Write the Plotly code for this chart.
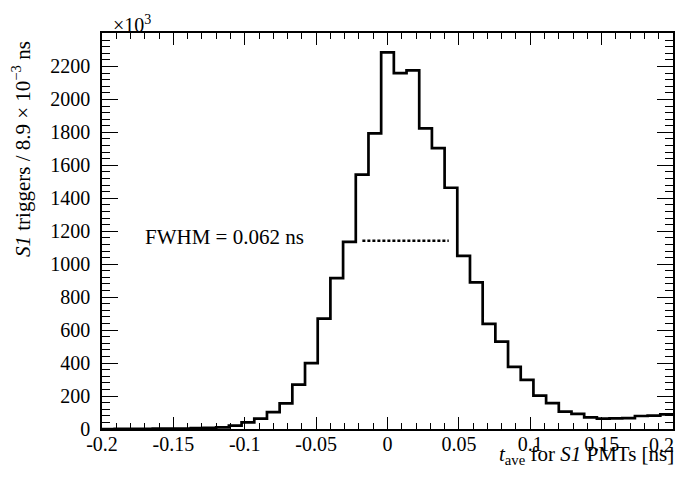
import plotly.graph_objects as go

# ---- data ----
x_min = -0.2
x_max = 0.2
n_bins = 45
counts = [0, 1, 1, 1, 2, 3, 3, 5, 7, 10,
          20, 40, 63, 103, 156, 269, 400, 670, 916, 1135,
          1543, 1794, 2285, 2160, 2176, 1824, 1705, 1464, 1050, 890,
          638, 530, 377, 298, 203, 157, 105, 92, 70, 63,
          65, 66, 79, 81, 89]
fwhm_x = [-0.0176, 0.0429]
fwhm_y = [1142, 1142]
x_tick_vals = [-0.2, -0.15, -0.1, -0.05, 0, 0.05, 0.1, 0.15, 0.2]
x_tick_text = ["-0.2", "-0.15", "-0.1", "-0.05", "0", "0.05", "0.1", "0.15", "0.2"]
y_tick_vals = [0, 200, 400, 600, 800, 1000, 1200, 1400, 1600, 1800, 2000, 2200]

bw = (x_max - x_min) / n_bins
edges = [x_min + i * bw for i in range(n_bins + 1)]
step_y = counts + [counts[-1]]

FONT = "Liberation Serif"

fig = go.Figure()
fig.add_trace(go.Scatter(x=edges, y=step_y, mode="lines", line_shape="hv",
                         line=dict(color="black", width=2.7), hoverinfo="skip"))
fig.add_trace(go.Scatter(x=fwhm_x, y=fwhm_y, mode="lines", hoverinfo="skip",
                         line=dict(color="black", width=2.5, dash="3px,2px")))

# page body keeps its default 8px margin; figure sized so the page is exactly 687x480
fig.update_layout(
    width=671, height=464,
    margin=dict(l=94, r=4, t=25, b=43),
    paper_bgcolor="white", plot_bgcolor="white",
    showlegend=False,
    font=dict(family=FONT, size=20, color="black"),
    xaxis=dict(range=[x_min, x_max], tickvals=x_tick_vals, ticktext=x_tick_text,
               ticks="inside", ticklen=12, tickwidth=1.3, tickcolor="black",
               mirror="allticks", showline=True, linewidth=1.5, linecolor="black",
               showgrid=False, zeroline=False, ticklabelstandoff=-4,
               minor=dict(dtick=0.01, ticks="inside", ticklen=6, tickwidth=1.1,
                          tickcolor="black", showgrid=False)),
    yaxis=dict(range=[0, 2403], tickvals=y_tick_vals,
               ticks="inside", ticklen=16, tickwidth=1.3, tickcolor="black",
               mirror="allticks", showline=True, linewidth=1.5, linecolor="black",
               showgrid=False, zeroline=False, ticklabelstandoff=6,
               minor=dict(tick0=0, dtick=40, ticks="inside", ticklen=8, tickwidth=1.1,
                          tickcolor="black", showgrid=False)),
)

# last x tick label sits on the page edge: drawn right-anchored so it stays visible
fig.add_annotation(x=1.0052, y=-0.0396, xref="paper", yref="paper",
                   text=x_tick_text[-1], showarrow=False,
                   xanchor="right", yanchor="middle", font=dict(family=FONT, size=20))
fig.add_annotation(x=-0.1712, y=1167, xref="x", yref="y", text="FWHM = 0.062 ns",
                   showarrow=False, xanchor="left", yanchor="middle",
                   font=dict(family=FONT, size=21))
fig.add_annotation(x=0.015, y=1.0235, xref="paper", yref="paper",
                   text="×10<sup>3</sup>", showarrow=False,
                   xanchor="left", yanchor="middle", font=dict(family=FONT, size=20))
fig.add_annotation(x=-0.14, y=0.985, xref="paper", yref="paper",
                   text="<i>S1</i> triggers / 8.9 × 10<sup>−3</sup> ns",
                   textangle=-90, showarrow=False, xanchor="center", yanchor="top",
                   font=dict(family=FONT, size=21))
fig.add_annotation(x=1.005, y=-0.103, xref="paper", yref="paper",
                   text="<i>t</i><sub>ave</sub> for <i>S1</i> PMTs [ns]",
                   showarrow=False, xanchor="right", yanchor="bottom",
                   font=dict(family=FONT, size=21))

fig.write_html("out.html", config={"displayModeBar": False})
